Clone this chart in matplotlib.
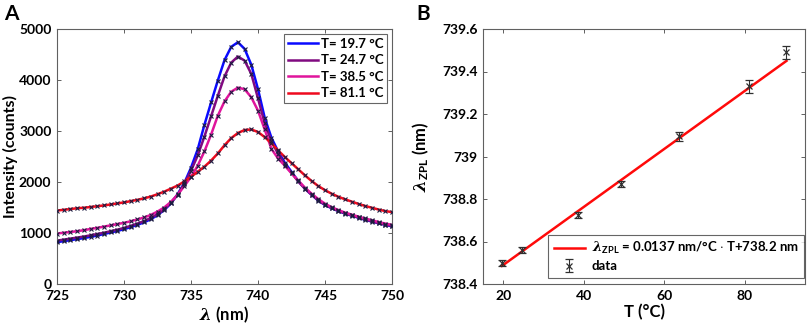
import numpy as np
import matplotlib
matplotlib.use("Agg")
import matplotlib.pyplot as plt

plt.rcParams['font.family'] = ['Lato', 'DejaVu Sans']
plt.rcParams['font.weight'] = 'bold'
plt.rcParams['mathtext.fontset'] = 'custom'
plt.rcParams['mathtext.rm'] = 'Lato:bold'
plt.rcParams['mathtext.bf'] = 'Lato:bold'
plt.rcParams['mathtext.it'] = 'DejaVu Serif:italic'

# ---------------- Panel A data ----------------
wavelength = [725.0 + 0.5 * i for i in range(51)]
labels_A = ["T= 19.7 °C", "T= 24.7 °C", "T= 38.5 °C", "T= 81.1 °C"]
colors_A = ["#0a0aff", "#800a80", "#e0149c", "#ee0a1e"]

I_197 = [820, 840, 860, 880, 900, 925, 950, 980, 1010, 1040,
         1075, 1115, 1160, 1210, 1270, 1350, 1450, 1580, 1760, 1980,
         2280, 2640, 3120, 3560, 3990, 4390, 4650, 4740, 4610, 4300,
         3820, 3260, 2870, 2600, 2380, 2200, 2020, 1870, 1750, 1635,
         1550, 1485, 1430, 1380, 1340, 1300, 1258, 1225, 1190, 1160, 1130]
I_247 = [850, 870, 890, 910, 930, 955, 980, 1005, 1035, 1065,
         1100, 1140, 1185, 1235, 1295, 1370, 1465, 1590, 1750, 1960,
         2220, 2520, 2890, 3290, 3690, 4070, 4340, 4460, 4380, 4120,
         3640, 3150, 2800, 2550, 2340, 2180, 2010, 1870, 1750, 1640,
         1555, 1490, 1435, 1385, 1345, 1305, 1265, 1230, 1195, 1165, 1140]
I_385 = [990, 1005, 1020, 1035, 1055, 1080, 1100, 1125, 1150, 1175,
         1200, 1230, 1265, 1305, 1355, 1420, 1500, 1610, 1750, 1920,
         2100, 2320, 2600, 2930, 3300, 3580, 3770, 3850, 3820, 3660,
         3400, 3030, 2650, 2460, 2320, 2170, 2030, 1890, 1770, 1665,
         1575, 1505, 1450, 1400, 1360, 1320, 1285, 1250, 1215, 1185, 1160]
I_811 = [1440, 1455, 1470, 1485, 1495, 1510, 1525, 1540, 1560, 1580,
         1600, 1625, 1650, 1680, 1715, 1760, 1810, 1870, 1930, 2010,
         2100, 2200, 2300, 2420, 2560, 2720, 2860, 2960, 3020, 3030,
         2980, 2880, 2760, 2620, 2490, 2370, 2250, 2130, 2020, 1920,
         1840, 1770, 1710, 1660, 1615, 1570, 1530, 1495, 1460, 1430, 1410]
spectra = [I_197, I_247, I_385, I_811]

# ---------------- Panel B data ----------------
T_data = [19.7, 24.7, 38.5, 49.3, 63.8, 81.1, 90.4]
zpl_data = [738.50, 738.56, 738.725, 738.87, 739.095, 739.33, 739.49]
zpl_err = [0.015, 0.015, 0.015, 0.015, 0.02, 0.03, 0.03]
T_fit = [19.7, 90.4]
zpl_fit = [738.485, 739.45]

fig = plt.figure(figsize=(8.09, 3.29), dpi=100)
axA = fig.add_axes([57/809, 45/329, 335/809, 255/329])
axB = fig.add_axes([483/809, 45/329, 322/809, 255/329])

tick_fs = 10
for ax in (axA, axB):
    for s in ax.spines.values():
        s.set_color('#606060')
        s.set_linewidth(0.8)
    ax.tick_params(direction='in', length=3, width=0.7, color='#606060',
                   top=True, right=True, labelsize=tick_fs, pad=4)

for I, c, lab in zip(spectra, colors_A, labels_A):
    axA.plot(wavelength, I, color=c, lw=1.8, label=lab, zorder=2)
for I in spectra:
    axA.plot(wavelength, I, ls='none', marker='x', ms=3, mew=0.8,
             color='#1c1c40', zorder=3)
axA.set_xlim(725, 750)
axA.set_ylim(0, 5000)
axA.set_xticks([725, 730, 735, 740, 745, 750])
axA.set_yticks([0, 1000, 2000, 3000, 4000, 5000])
for lab in axA.get_xticklabels() + axA.get_yticklabels():
    lab.set_fontweight('bold')
axA.set_xlabel(r'$\lambda$ (nm)', fontsize=12, fontweight='bold', labelpad=2)
axA.set_ylabel('Intensity (counts)', fontsize=11.5, fontweight='bold', labelpad=1)
legA = axA.legend(loc='upper right', fontsize=9.5, frameon=True, fancybox=False,
                  edgecolor='#404040', handlelength=2.3, handletextpad=0.2,
                  borderpad=0.3, labelspacing=0.35, borderaxespad=0.35)
legA.get_frame().set_linewidth(0.8)
for t in legA.get_texts():
    t.set_fontweight('bold')

fit_line, = axB.plot(T_fit, zpl_fit, color='#ff0a0a', lw=1.8,
                     label=r'$\lambda_{\mathrm{ZPL}}$ = 0.0137 nm/°C $\cdot$ T+738.2 nm')
eb = axB.errorbar(T_data, zpl_data, yerr=zpl_err, fmt='x', color='#303030',
                  ms=4, mew=0.9, elinewidth=0.8, capsize=3, capthick=0.8,
                  label='data', zorder=3)
axB.set_xlim(15, 95)
axB.set_ylim(738.4, 739.6)
axB.set_xticks([20, 40, 60, 80])
axB.set_yticks([738.4, 738.6, 738.8, 739.0, 739.2, 739.4, 739.6])
axB.set_yticklabels(['738.4', '738.6', '738.8', '739', '739.2', '739.4', '739.6'])
for lab in axB.get_xticklabels() + axB.get_yticklabels():
    lab.set_fontweight('bold')
axB.set_xlabel('T (°C)', fontsize=12, fontweight='bold', labelpad=2)
axB.set_ylabel(r'$\lambda_{\mathrm{ZPL}}$ (nm)', fontsize=12, fontweight='bold', labelpad=8)
legB = axB.legend(loc='lower right', bbox_to_anchor=(0.997, 0.025), fontsize=9.5,
                  frameon=True, fancybox=False,
                  edgecolor='#404040', handlelength=2.4, handletextpad=0.5,
                  borderpad=0.4, labelspacing=0.3, borderaxespad=0.0)
legB.get_frame().set_linewidth(0.8)
for t in legB.get_texts():
    t.set_fontweight('bold')

fig.text(4/809, 1 - 14/329, 'A', fontsize=15, fontweight='bold', va='center', ha='left')
fig.text(416/809, 1 - 14/329, 'B', fontsize=15, fontweight='bold', va='center', ha='left')

fig.savefig('out.png', dpi=100)
